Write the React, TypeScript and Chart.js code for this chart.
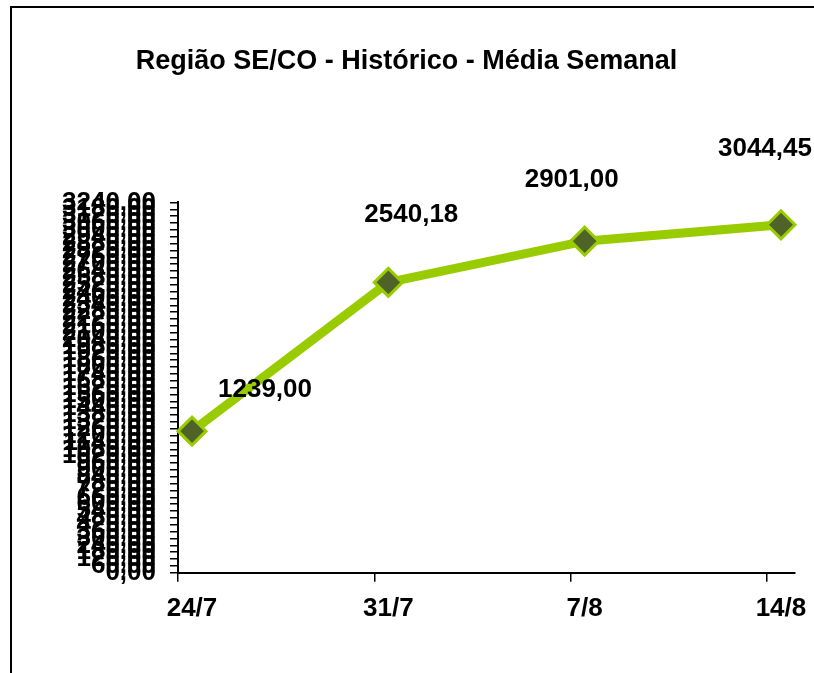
import React, { useEffect, useRef } from "react";
import { Chart, registerables } from "chart.js";

Chart.register(...registerables);

const categories = ["24/7", "31/7", "7/8", "14/8"];
const dayOffsets = [0, 7, 14, 21];
const values = [1239.0, 2540.18, 2901.0, 3044.45];
const yMin = 0;
const yMax = 3240;
const yStep = 60;
const xMaxDays = 22;
const titleText = "Região SE/CO - Histórico - Média Semanal";

// pixel offsets of the value labels relative to their points
const labelOffsets = [
  [73, -41],
  [23, -68],
  [-13, -61],
  [-16, -76],
];

const fmt = (v: number) => v.toFixed(2).replace(".", ",");
const FONT = "'Liberation Sans', Arial, sans-serif";

const valueLabels = {
  id: "valueLabels",
  afterDatasetsDraw(chart: any) {
    const ctx = chart.ctx;
    const meta = chart.getDatasetMeta(0);
    ctx.save();
    ctx.font = `bold 26px ${FONT}`;
    ctx.fillStyle = "#000";
    ctx.textAlign = "center";
    ctx.textBaseline = "middle";
    meta.data.forEach((pt: any, i: number) => {
      const [dx, dy] = labelOffsets[i];
      ctx.fillText(fmt(values[i]), pt.x + dx, pt.y + dy);
    });
    ctx.restore();
  },
};

export default function App() {
  const ref = useRef<HTMLCanvasElement | null>(null);
  useEffect(() => {
    if (!ref.current) return;
    const chart = new Chart(ref.current, {
      type: "line",
      data: {
        datasets: [
          {
            data: values.map((v, i) => ({ x: dayOffsets[i] + 0.5, y: v })),
            borderColor: "#99CC00",
            borderWidth: 9,
            pointStyle: "rectRot",
            pointRadius: 14,
            pointHoverRadius: 14,
            pointBackgroundColor: "#4F6228",
            pointBorderColor: "#99CC00",
            pointBorderWidth: 3,
            tension: 0,
            clip: false as any,
          },
        ],
      },
      options: {
        responsive: false,
        animation: false,
        layout: { padding: { left: 18, right: 19, top: 0, bottom: 38 } },
        plugins: {
          legend: { display: false },
          tooltip: { enabled: false },
          title: {
            display: true,
            text: titleText,
            color: "#000",
            font: { family: FONT, size: 27, weight: "bold" },
            padding: { top: 45, bottom: 125 },
          },
        },
        scales: {
          x: {
            type: "linear",
            min: 0,
            max: xMaxDays,
            afterBuildTicks: (scale: any) => {
              scale.ticks = dayOffsets.map((d) => ({ value: d }));
            },
            grid: {
              drawOnChartArea: false,
              drawTicks: true,
              tickLength: 9,
              color: "#000",
              lineWidth: 1.5,
            },
            border: { display: true, color: "#000", width: 2 },
            ticks: {
              autoSkip: false,
              maxRotation: 0,
              labelOffset: 14,
              padding: 11,
              color: "#000",
              font: { family: FONT, size: 26, weight: "bold" },
              callback: (_v: any, i: number) => categories[i],
            },
          },
          y: {
            min: yMin,
            max: yMax,
            afterFit: (scale: any) => {
              scale.width = 160;
            },
            grid: {
              drawOnChartArea: false,
              drawTicks: true,
              tickLength: 8,
              color: "#000",
              lineWidth: 1.5,
            },
            border: { display: true, color: "#000", width: 2 },
            ticks: {
              stepSize: yStep,
              maxTicksLimit: 200,
              autoSkip: false,
              padding: 14,
              color: "#000",
              font: { family: FONT, size: 26, weight: "bold" },
              callback: (v: any) => fmt(Number(v)),
            },
          },
        },
      },
      plugins: [valueLabels],
    });
    return () => chart.destroy();
  }, []);

  return (
    <div style={{ position: "fixed", left: 0, top: 0, width: 814, height: 673, overflow: "hidden", background: "#fff" }}>
      <div
        style={{
          position: "absolute",
          left: 10,
          top: 6,
          width: 900,
          height: 800,
          borderTop: "2px solid #000",
          borderLeft: "2px solid #000",
        }}
      />
      <canvas ref={ref} width={814} height={673} style={{ position: "absolute", left: 0, top: 0 }} />
    </div>
  );
}
